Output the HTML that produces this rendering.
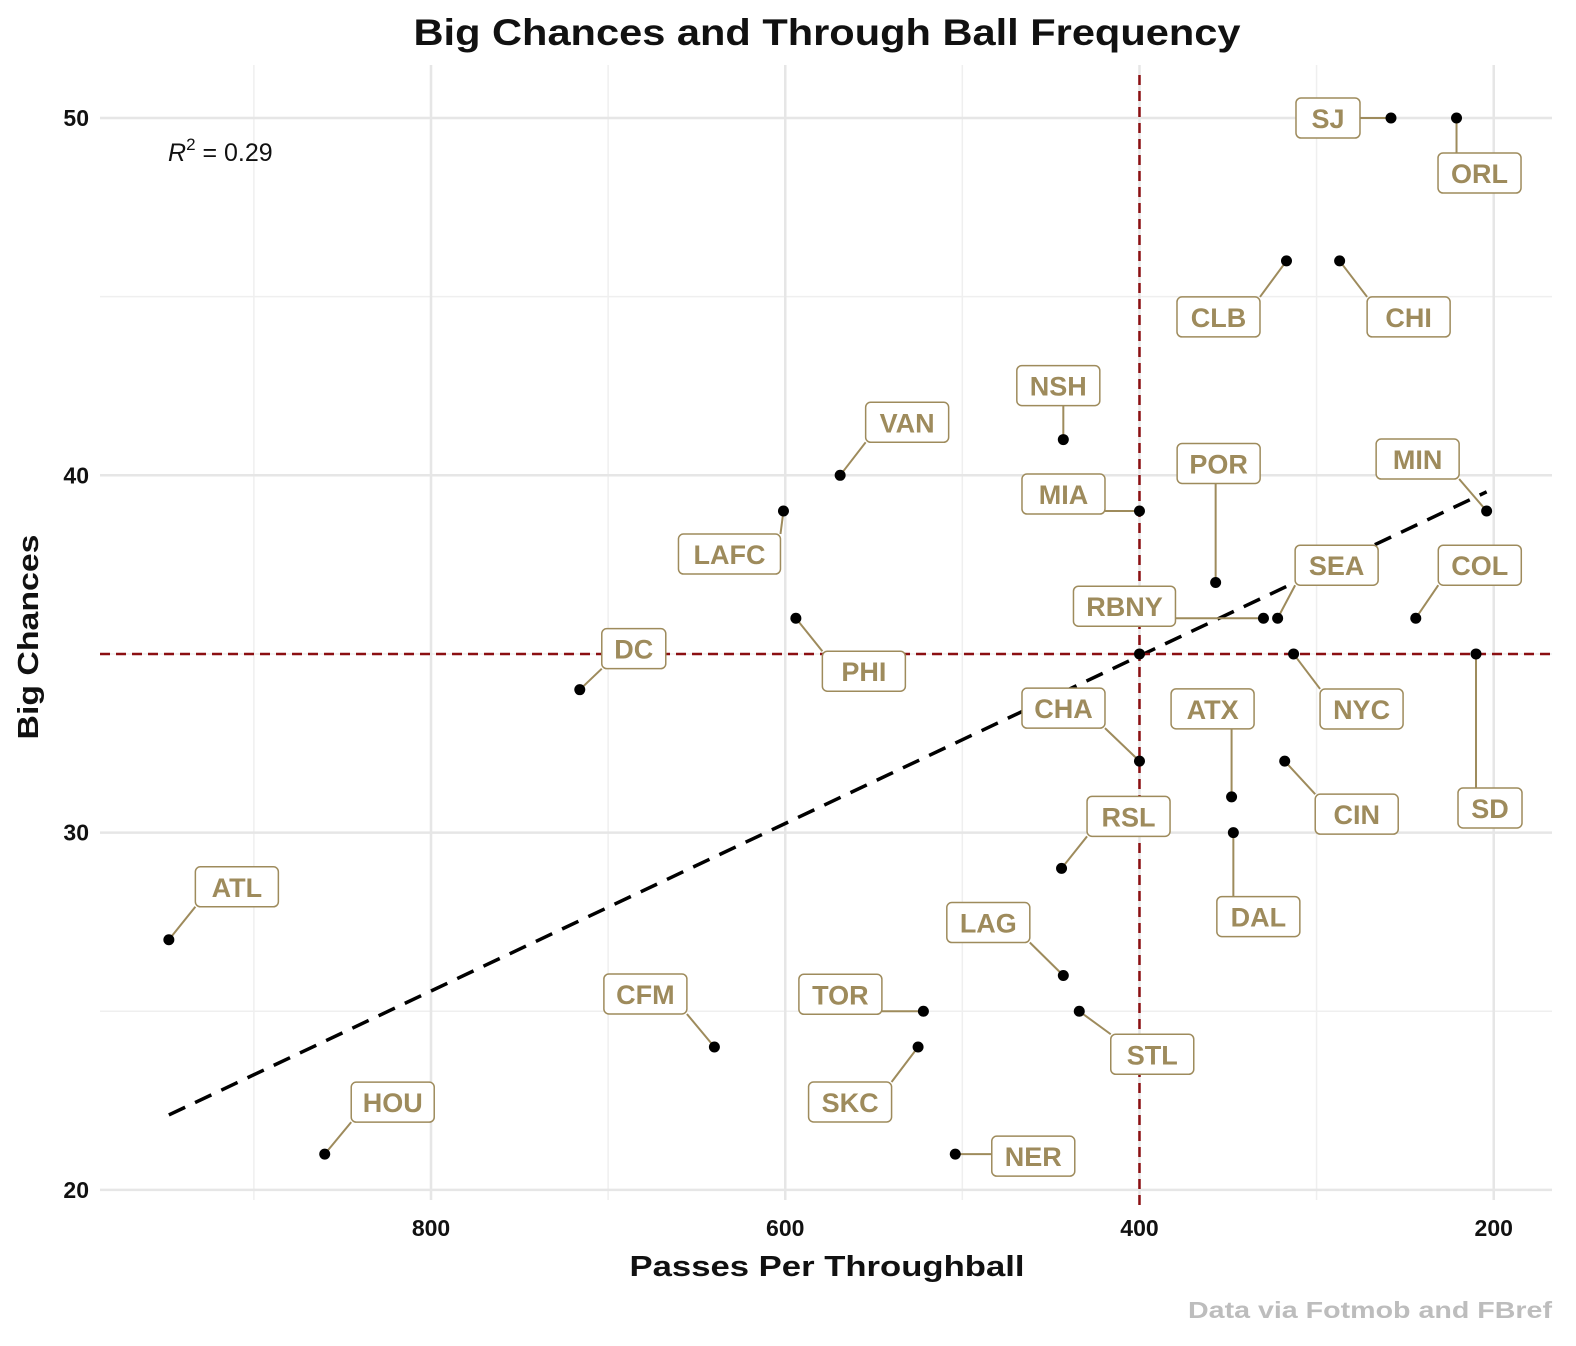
<!DOCTYPE html>
<html><head><meta charset="utf-8">
<style>
html,body{margin:0;padding:0;background:#fff;}
svg{display:block;font-family:"Liberation Sans",sans-serif;}
</style></head>
<body>
<svg id="chart" width="1576" height="1346" viewBox="0 0 1576 1346">
<text x="827" y="45" text-anchor="middle" font-size="37" font-weight="bold" fill="#111" textLength="827" lengthAdjust="spacingAndGlyphs">Big Chances and Through Ball Frequency</text>
<g id="grid"></g>
<g id="axes"></g>
<g id="refs"></g>
<g id="marks"></g>
<text x="168" y="161" font-size="25" fill="#111"><tspan font-style="italic">R</tspan><tspan dy="-11" font-size="17">2</tspan><tspan dy="11"> = 0.29</tspan></text>
<text x="827" y="1276" text-anchor="middle" font-size="29" font-weight="bold" fill="#111" textLength="395" lengthAdjust="spacingAndGlyphs">Passes Per Throughball</text>
<text transform="translate(38,637) rotate(-90)" text-anchor="middle" font-size="29" font-weight="bold" fill="#111" textLength="205" lengthAdjust="spacingAndGlyphs">Big Chances</text>
<text x="1552" y="1318" text-anchor="end" font-size="23" font-weight="bold" fill="#bdbdbd" textLength="364" lengthAdjust="spacingAndGlyphs">Data via Fotmob and FBref</text>
</svg>
<script>
const teams=["SJ","ORL","CLB","CHI","NSH","VAN","LAFC","MIA","MIN","POR","RBNY","SEA","COL","PHI","DC","NYC","SD","","CHA","CIN","ATX","DAL","RSL","ATL","LAG","TOR","STL","CFM","SKC","HOU","NER"];
const passesPerThroughball=[258,221,317,287,443,569,601,400,204,357,330,322,244,594,716,313,210,400,400,318,348,347,444,948,443,522,434,640,525,860,504];
const bigChances=[50,50,46,46,41,40,39,39,39,37,36,36,36,36,34,35,35,35,32,32,31,30,29,27,26,25,25,24,24,21,21];
const xTicks=[800,600,400,200];
const xMinor=[900,700,500,300];
const yTicks=[20,30,40,50];
const yMinor=[25,35,45];
const refX=[400];
const refY=[35];
// label offsets (pixel layout, not data)
const labelDx=[-63,23,-68,69,-5,67,-54,-76,-69,3,-139,59,64,68,54,68,14,0,-76,72,-19,25,67,68,-75,-83,73,-69,-68,68,78];
const labelDy=[0,55,56,56,-54,-53,43,-17,-52,-119,-12,-53,-53,53,-41,55,154,0,-53,53,-88,84,-52,-53,-53,-17,43,-53,55,-52,2];

const NS="http://www.w3.org/2000/svg";
const X0=100,X1=1552,Y0=65,Y1=1200;
function sx(v){return 431+(800-v)*1.7712;}
function sy(v){return 118+(50-v)*35.73;}
function mk(tag,attrs,parent){const e=document.createElementNS(NS,tag);for(const k in attrs)e.setAttribute(k,attrs[k]);parent.appendChild(e);return e;}
const grid=document.getElementById('grid'),axes=document.getElementById('axes'),refs=document.getElementById('refs'),marks=document.getElementById('marks');
xMinor.forEach(v=>{const l=mk('line',{x1:sx(v),x2:sx(v),y1:Y0,y2:Y1,stroke:'#efefef','stroke-width':1.5},grid);

});
yMinor.forEach(v=>{const l=mk('line',{x1:X0,x2:X1,y1:sy(v),y2:sy(v),stroke:'#efefef','stroke-width':1.5},grid);

});
xTicks.forEach(v=>{const l=mk('line',{x1:sx(v),x2:sx(v),y1:Y0,y2:Y1,stroke:'#e6e6e6','stroke-width':2.5},grid);


const t=mk('text',{x:sx(v),y:1236,'text-anchor':'middle','font-size':23,'font-weight':'bold',fill:'#111'},axes);t.textContent=v;

});
yTicks.forEach(v=>{const l=mk('line',{x1:X0,x2:X1,y1:sy(v),y2:sy(v),stroke:'#e6e6e6','stroke-width':2.5},grid);


const t=mk('text',{x:89,y:sy(v)+8,'text-anchor':'end','font-size':23,'font-weight':'bold',fill:'#111'},axes);t.textContent=v;

});
// regression
const n=passesPerThroughball.length;
let mx=0,my=0;for(let i=0;i<n;i++){mx+=passesPerThroughball[i];my+=bigChances[i];}mx/=n;my/=n;
let sxy=0,sxx=0;for(let i=0;i<n;i++){sxy+=(passesPerThroughball[i]-mx)*(bigChances[i]-my);sxx+=(passesPerThroughball[i]-mx)**2;}
const b=sxy/sxx,a=my-b*mx;
const xmin=Math.min(...passesPerThroughball),xmax=Math.max(...passesPerThroughball);
const reg=mk('line',{x1:sx(xmax),y1:sy(a+b*xmax),x2:sx(xmin),y2:sy(a+b*xmin),stroke:'#000','stroke-width':3.5,'stroke-dasharray':'18,11'},refs);


refX.forEach(v=>{const l=mk('line',{x1:sx(v),x2:sx(v),y1:Y0+10,y2:Y1+5,stroke:'#8b0f12','stroke-width':2.5,'stroke-dasharray':'10,6'},refs);

});
refY.forEach(v=>{const l=mk('line',{x1:X0,x2:X1,y1:sy(v),y2:sy(v),stroke:'#8b0f12','stroke-width':2.5,'stroke-dasharray':'10,6'},refs);

});
const gold='#9e8b5c';
for(let i=0;i<n;i++){
 const px=sx(passesPerThroughball[i]),py=sy(bigChances[i]);
 if(teams[i]){
  const lx=px+labelDx[i],ly=py+labelDy[i];
  const w=teams[i].length*19+26,h=40;
  let ex=Math.max(lx-w/2,Math.min(px,lx+w/2)),ey=Math.max(ly-h/2,Math.min(py,ly+h/2));
  const c=mk('line',{x1:px,y1:py,x2:ex,y2:ey,stroke:gold,'stroke-width':2},marks);
  
  
  const g=mk('g',{},marks);
  
  
  mk('rect',{x:lx-w/2,y:ly-h/2,width:w,height:h,rx:5,fill:'#fff',stroke:gold,'stroke-width':1.5},g);
  const t=mk('text',{x:lx,y:ly+10,'text-anchor':'middle','font-size':27,'font-weight':'bold',fill:gold},g);t.textContent=teams[i];
 }
}
for(let i=0;i<n;i++){
 const p=mk('circle',{cx:sx(passesPerThroughball[i]),cy:sy(bigChances[i]),r:5.5,fill:'#000'},marks);
 
 
}
</script>
</body></html>
